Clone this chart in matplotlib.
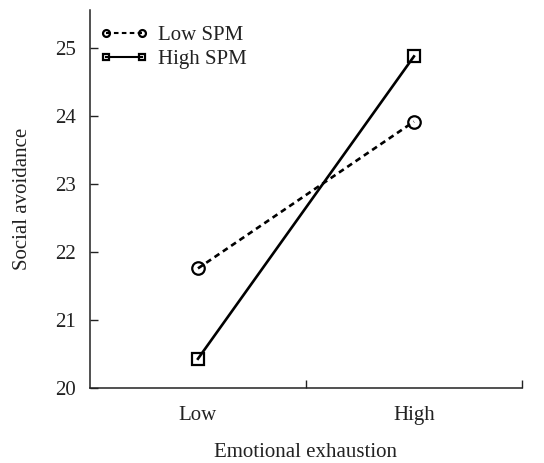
import matplotlib.pyplot as plt

# categories on the x axis
exhaustion_levels = ['Low', 'High']

# social avoidance
low_spm = [21.76, 23.92]
high_spm = [20.43, 24.88]

plt.rcParams['font.family'] = ['Liberation Serif', 'DejaVu Serif']

fig = plt.figure(figsize=(5.44, 4.63), dpi=100)
ax = fig.add_axes([0.1654, 0.162, 0.794, 0.816])

x = list(range(len(exhaustion_levels)))
ax.plot(x, low_spm, color='black', linestyle=(0, (2.2, 1.6)), linewidth=1.9,
        marker='o', markersize=9, markerfacecolor='none', markeredgewidth=1.6,
        label='Low SPM')
ax.plot(x, high_spm, color='black', linestyle='-', linewidth=1.9,
        marker='s', markersize=8.5, markerfacecolor='none', markeredgewidth=1.6,
        label='High SPM')

ax.set_xlim(-0.5, 1.5)
ax.set_ylim(20, 25.56)
ax.set_yticks([20, 21, 22, 23, 24, 25])

# category labels in the middle, tick marks between the categories
ax.set_xticks([0.5, 1.5])
ax.set_xticklabels([])
ax.set_xticks(x, minor=True)
ax.set_xticklabels(exhaustion_levels, minor=True)
ax.tick_params(axis='x', which='major', direction='in', length=6, width=1, colors='#222222')
ax.tick_params(axis='x', which='minor', length=0, pad=13, labelsize=15, colors='#222222')
ax.tick_params(axis='y', direction='in', length=6, width=1, pad=10, labelsize=15, colors='#222222')

for side in ['top', 'right']:
    ax.spines[side].set_visible(False)
for side in ['left', 'bottom']:
    ax.spines[side].set_linewidth(1.1)
    ax.spines[side].set_color('#222222')

ax.set_xlabel('Emotional exhaustion', fontsize=15, color='#222222', labelpad=13)
ax.set_ylabel('Social avoidance', fontsize=15, color='#222222', labelpad=17)

leg = ax.legend(loc='upper left', frameon=False, fontsize=15, numpoints=2,
                handlelength=2.3, handletextpad=0.45, labelspacing=0.2,
                markerscale=0.55, borderaxespad=0.3, bbox_to_anchor=(-0.01, 0.998))
for t in leg.get_texts():
    t.set_color('#222222')
for h in leg.legend_handles:
    h.set_linewidth(1.5)

fig.savefig('out.png', dpi=100)
